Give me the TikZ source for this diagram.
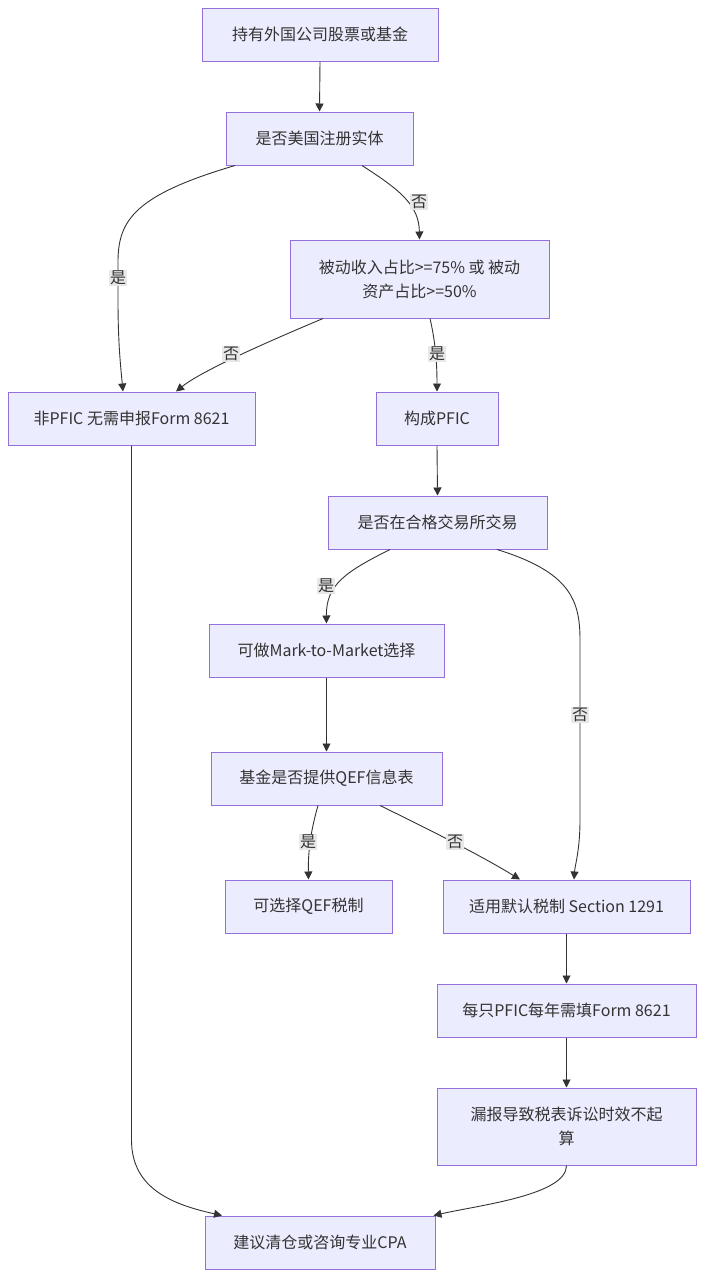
\documentclass[tikz,border=0pt]{standalone}
\usepackage{fontspec}
\setmainfont{Noto Sans CJK SC}
\usetikzlibrary{arrows.meta}
\definecolor{nodefill}{HTML}{ECECFF}
\definecolor{nodeline}{HTML}{9370DB}
\definecolor{txt}{HTML}{333333}
\definecolor{lblbg}{HTML}{E8E8E8}
\begin{document}
\begin{tikzpicture}[x=1pt,y=-1pt,
  box/.style={draw=nodeline, fill=nodefill, line width=1pt, text=txt, align=center,
    font=\fontsize{16}{24}\selectfont, inner sep=0pt, minimum height=53pt},
  conn/.style={draw=txt, line width=0.9pt, -{Triangle[length=8pt,width=8pt]}},
  lbl/.style={fill=lblbg, text=txt, font=\fontsize{16}{19}\selectfont, inner sep=1pt}]
\useasboundingbox[fill=white] (0,0) rectangle (705,1278);

\node[box, minimum width=236pt] (n1) at (320,34.5) {持有外国公司股票或基金};
\node[box, minimum width=187pt] (n2) at (319.5,138.5) {是否美国注册实体};
\node[box, minimum width=259pt, minimum height=78pt] (n3) at (419.5,279) {被动收入占比>=75\% 或 被动\\资产占比>=50\%};
\node[box, minimum width=247pt] (n4) at (131.5,418.5) {非PFIC 无需申报Form 8621};
\node[box, minimum width=122pt] (n5) at (437,418.5) {构成PFIC};
\node[box, minimum width=219pt] (n6) at (437.5,522.5) {是否在合格交易所交易};
\node[box, minimum width=235pt] (n7) at (326.5,650.5) {可做Mark-to-Market选择};
\node[box, minimum width=231pt] (n8) at (326.5,778.5) {基金是否提供QEF信息表};
\node[box, minimum width=167pt] (n9) at (308.5,906.5) {可选择QEF税制};
\node[box, minimum width=247pt] (n10) at (566.5,906.5) {适用默认税制 Section 1291};
\node[box, minimum width=259pt] (n11) at (566.5,1010.5) {每只PFIC每年需填Form 8621};
\node[box, minimum width=259pt, minimum height=77pt] (n12) at (566.5,1126.5) {漏报导致税表诉讼时效不起\\算};
\node[box, minimum width=230pt] (n13) at (320,1242.5) {建议清仓或咨询专业CPA};

% straight edges
\draw[conn] (n1.south) -- (n2.north);
\draw[conn] (n5.south) -- (n6.north);
\draw[conn] (n7.south) -- (n8.north);
\draw[conn] (n10.south) -- (n11.north);
\draw[conn] (n11.south) -- (n12.north);

% 2 -> 4 (是)
\draw[conn] ([xshift=-84.5pt]n2.south) .. controls (135,195) and (118,220) .. (118,262)
  -- (118,300) .. controls (118,345) and (121,370) .. ([xshift=-8.5pt]n4.north);
\node[lbl] (l1) at (118,278) {是};
% 2 -> 3 (否)
\draw[conn] ([xshift=42.5pt]n2.south) .. controls (400,190) and (419,205) .. (n3.north);
\node[lbl] (l2) at (419,202) {否};
% 3 -> 4 (否)
\draw[conn] ([xshift=-96.5pt]n3.south) .. controls (260,345) and (200,372) .. ([xshift=44.5pt]n4.north);
\node[lbl] (l3) at (231,354) {否};
% 3 -> 5 (是)
\draw[conn] ([xshift=10.5pt]n3.south) .. controls (435,340) and (437,360) .. (n5.north);
\node[lbl] (l4) at (437,354) {是};
% 6 -> 7 (是)
\draw[conn] ([xshift=-47.5pt]n6.south) .. controls (345,572) and (326,585) .. (n7.north);
\node[lbl] (l5) at (326,586) {是};
% 6 -> 10 (否)
\draw[conn] ([xshift=59.5pt]n6.south) .. controls (570,572) and (580,600) .. (580,640)
  -- (580,820) .. controls (580,850) and (575,865) .. ([xshift=7.5pt]n10.north);
\node[lbl] (l6) at (580,715) {否};
% 8 -> 9 (是)
\draw[conn] ([xshift=-8.5pt]n8.south) .. controls (311,830) and (308,850) .. (n9.north);
\node[lbl] (l7) at (308,842) {是};
% 8 -> 10 (否)
\draw[conn] ([xshift=53.5pt]n8.south) .. controls (430,830) and (480,855) .. ([xshift=-46.5pt]n10.north);
\node[lbl] (l8) at (455,842) {否};
% 4 -> 13
\draw[conn] (n4.south) -- (131.5,1140) .. controls (131.5,1190) and (175,1205) .. ([xshift=-98pt]n13.north);
% 12 -> 13
\draw[conn] (n12.south) .. controls (566.5,1195) and (480,1205) .. ([xshift=-2pt]n13.north east);
\end{tikzpicture}
\end{document}
